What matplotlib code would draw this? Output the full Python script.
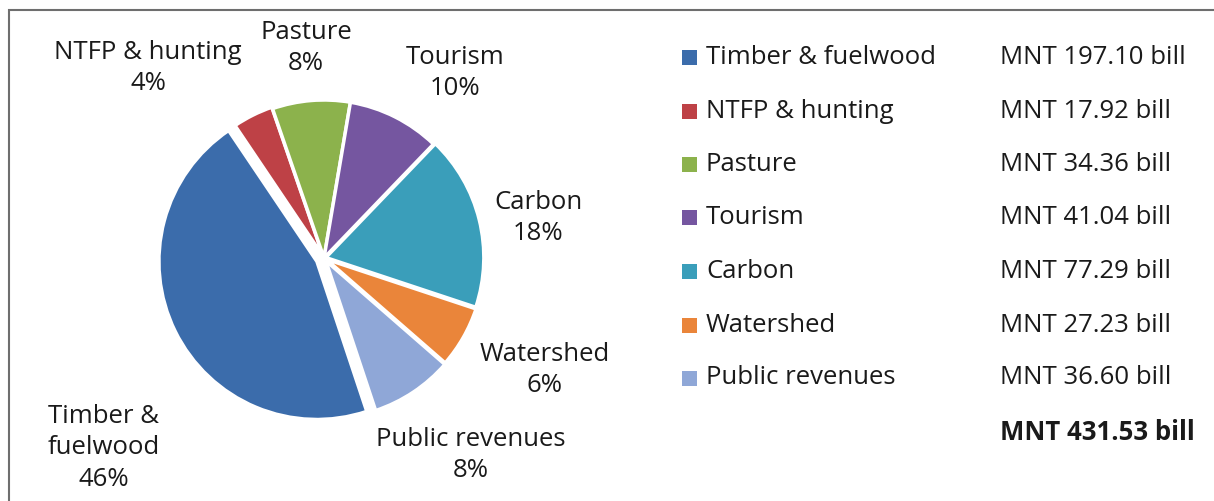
import matplotlib.pyplot as plt
from matplotlib.patches import Rectangle

plt.rcParams['font.family'] = ['Open Sans', 'DejaVu Sans']

# data (legend order)
categories = ['Timber & fuelwood', 'NTFP & hunting', 'Pasture', 'Tourism',
              'Carbon', 'Watershed', 'Public revenues']
pie_labels = ['Timber &\nfuelwood', 'NTFP & hunting', 'Pasture', 'Tourism',
              'Carbon', 'Watershed', 'Public revenues']
values = [197.10, 17.92, 34.36, 41.04, 77.29, 27.23, 36.60]
total = 431.53
colors = ['#3b6cab', '#be4146', '#8cb24c', '#7556a0', '#3a9eba', '#ea853a', '#8fa7d7']

W, H = 1214, 501
fig = plt.figure(figsize=(W / 100, H / 100), dpi=100)
ax = fig.add_axes([0, 0, 1, 1])

# pie, drawn clockwise starting at the timber slice
radius = 158
explode = [r * radius for r in [0.05, 0.01, 0.0, 0.0, 0.012, 0.015, 0.02]]
ax.pie(values, colors=colors, explode=explode, startangle=-71.6, counterclock=False,
       center=(324, H - 258), radius=radius, frame=True,
       wedgeprops=dict(edgecolor='white', linewidth=2.5))

# slice labels (pixel positions in the picture)
label_pos = [(104, 448), (148, 68), (306, 48), (455, 73),
             (538, 218), (545, 370), (471, 455)]
fs = 18.5
for lab, v, (x, y) in zip(pie_labels, values, label_pos):
    ax.text(x, H - y, f"{lab}\n{v / sum(values) * 100:.0f}%", ha='center', va='center',
            fontsize=fs, color='#1a1a1a', linespacing=1.35)

# legend with amounts
row_y = [57, 111, 164, 217, 271, 325, 378]
for cat, v, c, y in zip(categories, values, colors, row_y):
    ax.add_patch(Rectangle((682, H - y - 7.5), 15, 15, facecolor=c, edgecolor='none'))
    ax.text(706, H - y, cat, ha='left', va='center', fontsize=fs, color='#1a1a1a')
    ax.text(1000, H - y, f"MNT {v:.2f} bill", ha='left', va='center', fontsize=fs,
            color='#1a1a1a')
ax.text(1000, H - 433, f"MNT {total:.2f} bill", ha='left', va='center', fontsize=fs,
        color='#1a1a1a', fontweight='bold')

# outer frame
ax.add_patch(Rectangle((9, -20), W + 20, H - 10 + 20, facecolor='none',
                       edgecolor='#6e6e6e', linewidth=1.5))

ax.set_xlim(0, W)
ax.set_ylim(0, H)
ax.set_aspect('equal')
ax.axis('off')

plt.savefig('out.png', dpi=100)
